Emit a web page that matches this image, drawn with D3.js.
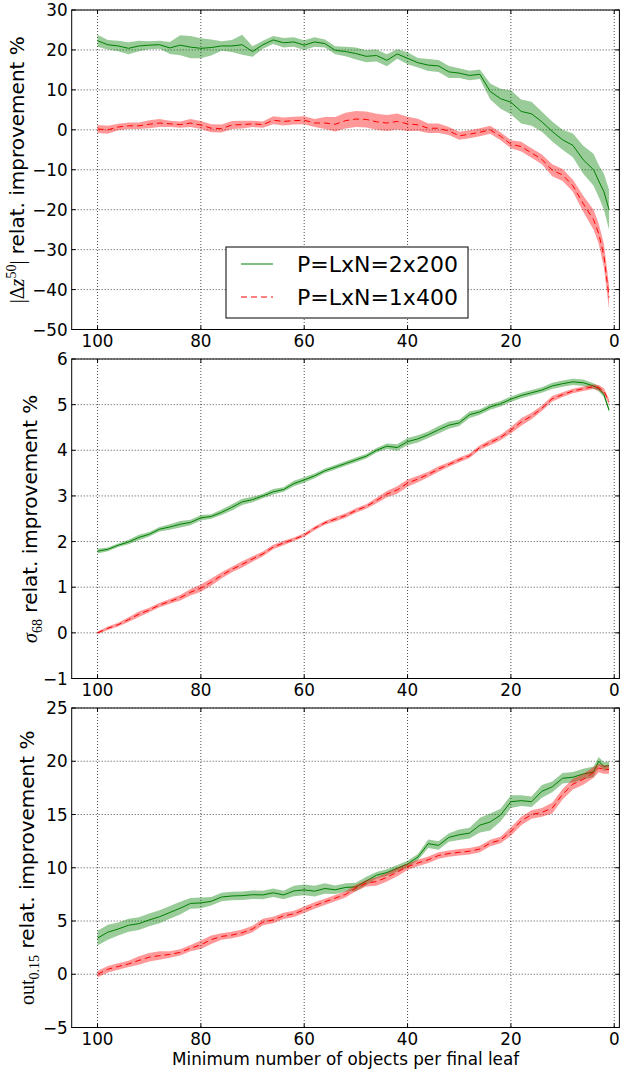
<!DOCTYPE html>
<html lang="en">
<head>
<meta charset="utf-8">
<title>Relative improvement vs minimum leaf size</title>
<script src="https://d3js.org/d3.v7.min.js"></script>
<style>
  body { margin: 0; background: #fff; }
  svg text { font-family: "DejaVu Sans", sans-serif; fill: #000; }
</style>
</head>
<body>
<script>

// minimum number of objects per final leaf (x values)
var leafMin = [100,98,96,94,92,90,88,86,84,82, 80,78,76,74,72,70,68,66,64,62,
               60,58,56,54,52,50,48,46,44,42, 40,38,36,34,32,30,28,26,24,22,
               20,18,16,14,12,10,8,6,4,3, 2,1];

// series names
var seriesNames = ["P=LxN=2x200", "P=LxN=1x400"];

// panel 1: |dz50| relat. improvement %
var dzGreen = [22.3,21.3,21.0,20.4,21.0,21.2,21.3,20.5,21.2,20.7, 20.4,20.6,21.0,21.0,21.3,19.6,21.3,22.5,21.8,22.0,
               21.2,22.0,21.6,19.9,19.6,19.1,18.4,18.6,17.4,19.0, 17.9,16.8,16.2,16.0,14.5,14.2,13.6,13.9,9.6,7.8,
               6.9,4.6,4.0,2.0,-0.4,-2.5,-3.9,-7.5,-10.0,-12.8, -15.5,-20.0];
var dzGreenErr = [1.5,1.2,1.3,1.5,1.3,1.0,1.0,1.5,2.5,2.8, 2.5,2.0,1.2,1.5,2.5,1.3,1.0,1.0,1.2,1.2,
                  1.2,1.2,1.0,1.0,1.2,1.5,1.5,1.5,1.5,1.2, 1.5,1.2,1.5,1.5,1.5,1.2,1.2,1.2,2.0,2.5,
                  3.0,3.0,3.0,2.5,2.5,2.5,3.0,3.5,4.0,4.0, 4.5,5.0];
var dzRed = [0.2,0.0,0.7,1.0,1.0,1.4,1.7,1.5,1.3,1.7, 1.2,0.4,0.3,1.2,1.3,1.5,1.3,2.4,2.1,2.3,
             2.4,1.7,1.7,1.4,2.3,2.7,2.6,2.0,1.7,2.1, 1.5,1.25,0.4,0.4,-0.3,-1.5,-1.1,-0.6,0.0,-1.6,
             -3.6,-4.2,-5.8,-7.4,-10.1,-11.3,-14.0,-18.5,-22.5,-26.0, -31.5,-42.0];
var dzRedErr = [1.0,1.0,0.8,0.8,0.8,1.0,1.0,0.8,0.8,1.0, 1.0,1.0,1.0,1.0,1.0,0.8,0.8,1.0,1.0,1.0,
                1.0,1.0,1.5,1.8,2.0,2.0,2.0,2.0,2.0,2.0, 1.8,1.5,1.2,1.2,1.0,1.0,1.0,1.0,1.0,1.0,
                1.0,1.2,1.2,1.2,1.5,1.5,1.5,2.0,2.5,2.5, 3.0,3.0];

// panel 2: sigma68 relat. improvement %
var sigGreen = [1.79,1.83,1.92,1.99,2.09,2.16,2.27,2.32,2.38,2.42, 2.52,2.55,2.64,2.75,2.87,2.92,3.0,3.09,3.14,3.27,
                3.35,3.44,3.55,3.63,3.71,3.79,3.87,4.0,4.09,4.06, 4.19,4.25,4.34,4.45,4.55,4.6,4.78,4.84,4.95,5.02,
                5.12,5.2,5.26,5.32,5.41,5.46,5.5,5.48,5.41,5.35, 5.22,4.88];
var sigGreenErr = [0.05,0.04,0.04,0.05,0.06,0.05,0.05,0.06,0.07,0.06, 0.06,0.05,0.06,0.07,0.07,0.06,0.05,0.06,0.05,0.06,
                   0.06,0.05,0.05,0.05,0.05,0.05,0.05,0.05,0.06,0.07, 0.08,0.08,0.07,0.08,0.08,0.07,0.07,0.06,0.06,0.06,
                   0.06,0.06,0.06,0.06,0.07,0.07,0.07,0.07,0.06,0.06, 0.05,0.05];
var sigRed = [0.0,0.1,0.18,0.29,0.41,0.5,0.61,0.69,0.77,0.89, 0.98,1.11,1.26,1.39,1.5,1.62,1.73,1.88,1.97,2.05,
              2.14,2.29,2.41,2.49,2.57,2.68,2.77,2.9,3.04,3.13, 3.28,3.37,3.47,3.59,3.69,3.79,3.88,4.06,4.17,4.28,
              4.44,4.62,4.75,4.92,5.13,5.22,5.3,5.35,5.39,5.37, 5.3,5.06];
var sigRedErr = [0.03,0.04,0.04,0.05,0.06,0.05,0.05,0.05,0.06,0.07, 0.08,0.08,0.07,0.06,0.07,0.06,0.05,0.05,0.05,0.04,
                 0.04,0.04,0.04,0.05,0.05,0.05,0.05,0.06,0.07,0.08, 0.08,0.07,0.06,0.06,0.05,0.05,0.05,0.05,0.06,0.06,
                 0.07,0.08,0.07,0.06,0.06,0.05,0.05,0.05,0.05,0.06, 0.06,0.06];

// panel 3: out0.15 relat. improvement %
var outGreen = [3.39,3.95,4.25,4.6,4.75,5.1,5.4,5.8,6.2,6.65, 6.7,6.85,7.25,7.35,7.38,7.47,7.45,7.65,7.45,7.82,
                7.92,7.8,8.05,7.93,8.15,8.2,8.75,9.3,9.55,9.95, 10.35,11.0,12.26,12.1,12.85,13.1,13.25,14.0,14.3,14.95,
                16.2,16.3,16.2,17.18,17.6,18.4,18.5,18.8,19.0,20.0, 19.5,19.6];
var outGreenErr = [0.7,0.7,0.6,0.6,0.6,0.6,0.6,0.6,0.6,0.5, 0.5,0.4,0.4,0.4,0.4,0.4,0.4,0.4,0.4,0.5,
                   0.5,0.5,0.5,0.4,0.4,0.4,0.4,0.3,0.3,0.3, 0.3,0.3,0.4,0.4,0.4,0.5,0.5,0.7,0.8,0.6,
                   0.6,0.5,0.5,0.6,0.5,0.5,0.5,0.5,0.5,0.4, 0.4,0.4];
var outRed = [0.0,0.47,0.73,0.97,1.3,1.6,1.75,1.86,2.05,2.45, 2.76,3.25,3.55,3.68,3.9,4.25,4.9,5.1,5.48,5.67,
              6.05,6.45,6.8,7.15,7.5,8.1,8.55,8.71,9.1,9.6, 10.1,10.45,10.75,11.15,11.33,11.45,11.55,11.76,12.32,12.6,
              13.4,14.4,15.0,15.2,15.6,16.9,17.85,18.3,18.95,19.37, 19.22,19.22];
var outRedErr = [0.3,0.3,0.3,0.3,0.4,0.4,0.4,0.3,0.3,0.3, 0.4,0.4,0.3,0.3,0.3,0.3,0.3,0.3,0.3,0.3,
                 0.3,0.3,0.3,0.3,0.3,0.3,0.3,0.4,0.4,0.4, 0.3,0.3,0.3,0.3,0.3,0.3,0.3,0.3,0.3,0.3,
                 0.4,0.4,0.4,0.4,0.5,0.5,0.5,0.5,0.5,0.4, 0.4,0.4];

// ticks
var xTicks = [100, 80, 60, 40, 20, 0];
var yTicks1 = [-50, -40, -30, -20, -10, 0, 10, 20, 30];
var yTicks2 = [-1, 0, 1, 2, 3, 4, 5, 6];
var yTicks3 = [-5, 0, 5, 10, 15, 20, 25];

var w = 621, h = 1072;
var left = 71.7, right = 619.4, panelH = 319.5;
var green = "#008000", red = "#ff0000";
var tickFont = "16.8px";

var x_scale = d3.scaleLinear().domain([105, -1]).range([left, right]);

var svg = d3.select("body").append("svg").attr("width", w).attr("height", h);
svg.append("rect").attr("width", w).attr("height", h).attr("fill", "white");

var panels = [
  {top: 10, dom: [-50, 30], ticks: yTicks1, g: dzGreen, ge: dzGreenErr, r: dzRed, re: dzRedErr, lx: 24,
   label: [{t: "|\u0394", f: "serif"}, {t: "z", f: "serif", it: true}, {t: "50", f: "serif", sm: true, dy: -8},
           {t: "|", f: "serif", dy: 8}, {t: " relat. improvement %"}]},
  {top: 359, dom: [-1, 6], ticks: yTicks2, g: sigGreen, ge: sigGreenErr, r: sigRed, re: sigRedErr, lx: 37,
   label: [{t: "\u03c3", f: "serif", it: true}, {t: "68", f: "serif", sm: true, dy: 5}, {t: " relat. improvement %", dy: -5}]},
  {top: 708, dom: [-5, 25], ticks: yTicks3, g: outGreen, ge: outGreenErr, r: outRed, re: outRedErr, lx: 34,
   label: [{t: "out", f: "serif"}, {t: "0.15", f: "serif", sm: true, dy: 5}, {t: " relat. improvement %", dy: -5}]}
];

var idx = d3.range(leafMin.length);

panels.forEach(function(p) {
  var top = p.top, bot = p.top + panelH;
  var y_scale = d3.scaleLinear().domain(p.dom).range([bot, top]);
  var g = svg.append("g");

  // grid
  g.selectAll(null).data(xTicks).enter().append("line")
    .attr("x1", d => x_scale(d)).attr("x2", d => x_scale(d)).attr("y1", top).attr("y2", bot)
    .attr("stroke", "#000").attr("stroke-width", 0.7).attr("stroke-dasharray", "1,2");
  g.selectAll(null).data(p.ticks).enter().append("line")
    .attr("x1", left).attr("x2", right).attr("y1", d => y_scale(d)).attr("y2", d => y_scale(d))
    .attr("stroke", "#000").attr("stroke-width", 0.7).attr("stroke-dasharray", "1,2");

  // bands and lines
  function band(v, e) {
    return d3.area().x(k => x_scale(leafMin[k])).y0(k => y_scale(v[k] - e[k])).y1(k => y_scale(v[k] + e[k]))(idx);
  }
  function line(v) {
    return d3.line().x(k => x_scale(leafMin[k])).y(k => y_scale(v[k]))(idx);
  }
  g.append("path").attr("d", band(p.g, p.ge)).attr("fill", green).attr("fill-opacity", 0.4);
  g.append("path").attr("d", line(p.g)).attr("fill", "none").attr("stroke", green).attr("stroke-width", 1);
  g.append("path").attr("d", band(p.r, p.re)).attr("fill", red).attr("fill-opacity", 0.4);
  g.append("path").attr("d", line(p.r)).attr("fill", "none").attr("stroke", red).attr("stroke-width", 1)
    .attr("stroke-dasharray", "6,4");

  // frame and inward ticks
  g.append("rect").attr("x", left).attr("y", top).attr("width", right - left).attr("height", panelH)
    .attr("fill", "none").attr("stroke", "#000").attr("stroke-width", 1);
  xTicks.forEach(function(d) {
    var xx = x_scale(d);
    g.append("line").attr("x1", xx).attr("x2", xx).attr("y1", bot).attr("y2", bot - 4).attr("stroke", "#000");
    g.append("line").attr("x1", xx).attr("x2", xx).attr("y1", top).attr("y2", top + 4).attr("stroke", "#000");
    g.append("text").attr("x", xx).attr("y", bot + 17).attr("text-anchor", "middle")
      .style("font-size", tickFont).text(d);
  });
  p.ticks.forEach(function(d) {
    var yy = y_scale(d);
    g.append("line").attr("x1", left).attr("x2", left + 4).attr("y1", yy).attr("y2", yy).attr("stroke", "#000");
    g.append("line").attr("x1", right).attr("x2", right - 4).attr("y1", yy).attr("y2", yy).attr("stroke", "#000");
    g.append("text").attr("x", left - 4).attr("y", yy).attr("dy", "0.36em").attr("text-anchor", "end")
      .style("font-size", tickFont).text(d3.format("d")(d));
  });

  // y label
  var t = g.append("text").attr("text-anchor", "middle").style("font-size", "20px")
    .attr("transform", "translate(" + p.lx + "," + (top + panelH / 2) + ") rotate(-90)");
  p.label.forEach(function(s) {
    var ts = t.append("tspan").text(s.t);
    if (s.f) ts.style("font-family", "'Liberation Serif', serif");
    if (s.it) ts.style("font-style", "italic");
    if (s.sm) ts.style("font-size", "14px");
    if (s.dy) ts.attr("dy", s.dy);
  });
});

// x label
svg.append("text").attr("x", (left + right) / 2).attr("y", 1065).attr("text-anchor", "middle")
  .style("font-size", tickFont).text("Minimum number of objects per final leaf");

// legend in the first panel
var lg = svg.append("g");
lg.append("rect").attr("x", 226).attr("y", 247).attr("width", 242).attr("height", 71)
  .attr("fill", "white").attr("stroke", "#000").attr("stroke-width", 1);
seriesNames.forEach(function(name, i) {
  var yy = 264 + i * 33;
  lg.append("line").attr("x1", 241).attr("x2", 273).attr("y1", yy).attr("y2", yy)
    .attr("stroke", i === 0 ? green : red).attr("stroke-width", 1)
    .attr("stroke-dasharray", i === 0 ? null : "6,4");
  lg.append("text").attr("x", 297).attr("y", yy + 8).style("font-size", "22px").text(name);
});

</script>
</body>
</html>
